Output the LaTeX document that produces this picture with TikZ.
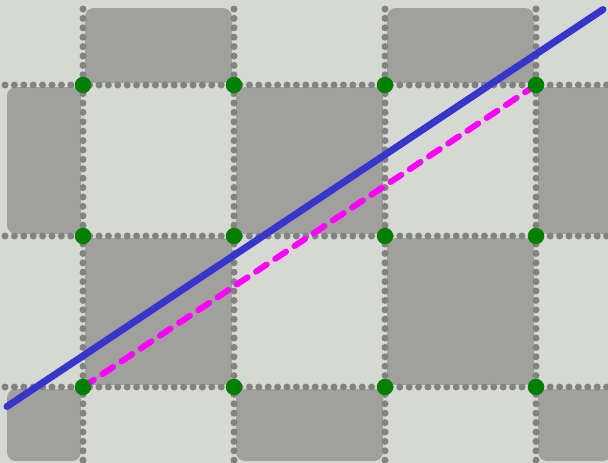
\documentclass[tikz,border=0pt]{standalone}
\usetikzlibrary{positioning,calc}
\definecolor{bgcol}{HTML}{D6D9D2}
\definecolor{tilecol}{HTML}{A0A19C}
\definecolor{dotcol}{HTML}{828282}
\definecolor{bluecol}{HTML}{3636CC}
\definecolor{magcol}{HTML}{FF00FF}
\tikzset{
  tile/.style={fill=tilecol,rounded corners=9pt},
  gridln/.style={dotcol,line width=7pt,line cap=round,dash pattern=on 0pt off 9.4pt},
  knot/.style={circle,fill=green!50!black,inner sep=0pt,minimum size=16.5pt},
}
\begin{document}
\begin{tikzpicture}[x=1pt,y=-1pt]
% background
\fill[bgcol] (0,0) rectangle (608,463);
\useasboundingbox (0,0) rectangle (608,463);
% draw grey tiles
\foreach \i/\j in {1/0,3/0,0/1,2/1,4/1,1/2,3/2,0/3,2/3,4/3} {
  \pgfmathsetmacro{\xa}{max(83+151*(\i-1)+2,7)}
  \pgfmathsetmacro{\xb}{min(83+151*\i-2,612)}
  \pgfmathsetmacro{\ya}{max(85+151*(\j-1)+2,8)}
  \pgfmathsetmacro{\yb}{min(85+151*\j-2,461)}
  \fill[tile] (\xa,\ya) rectangle (\xb,\yb);
}
% draw dotted grid lines
\foreach \x in {83,234,385,536}
  \draw[gridln] (\x,9) -- (\x,461);
\foreach \y in {85,236,387}
  \draw[gridln] (5,\y) -- (610,\y);
% grid points
\foreach \i in {0,...,3}
  \foreach \j in {0,...,2}
    \coordinate (p-\i-\j) at (83+151*\i,85+151*\j);
% draw lines
\coordinate (blue-a) at (7,406.5);
\coordinate (blue-b) at (603,9.5);
\draw[bluecol,line width=7pt,line cap=round] (blue-a) -- (blue-b);
\draw[magcol,line width=6pt,line cap=round,dash pattern=on 13pt off 10.1pt] (p-0-2) -- (p-3-0);
% draw nodes
\foreach \i in {0,...,3}
  \foreach \j in {0,...,2}
    \node[knot] (g-\i-\j) at (p-\i-\j) {};
\end{tikzpicture}
\end{document}
